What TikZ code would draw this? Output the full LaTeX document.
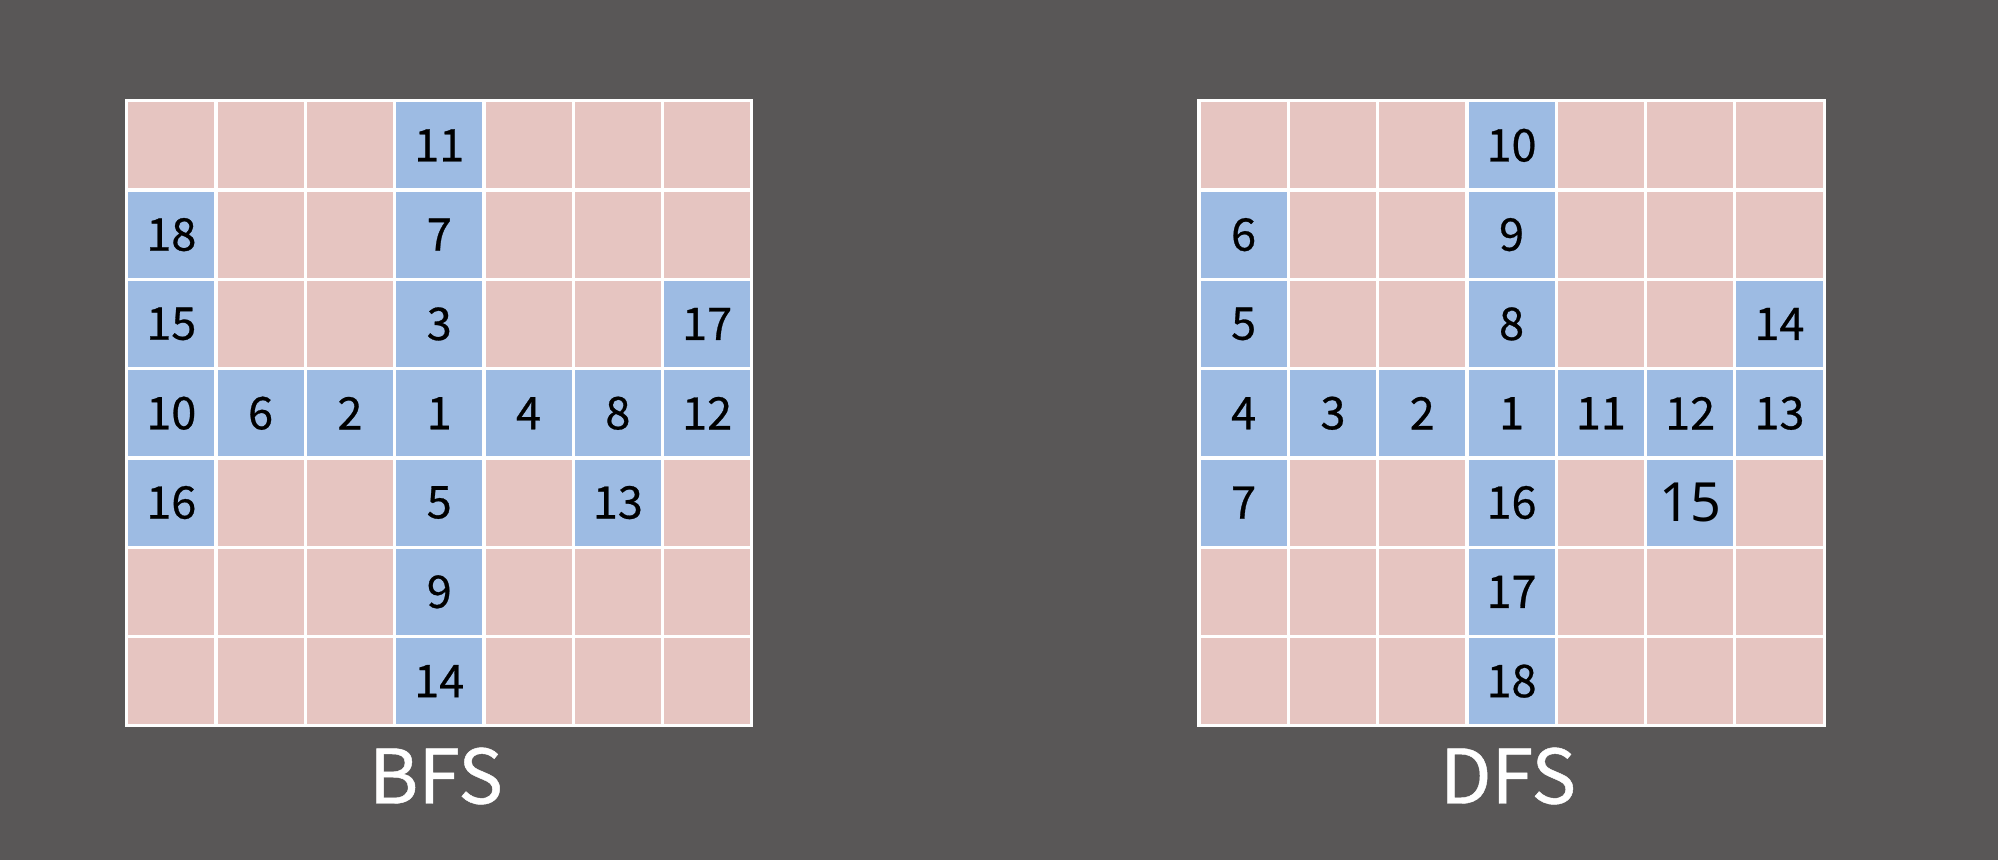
\documentclass[tikz,border=0pt]{standalone}
\usepackage{fontspec}
\setmainfont{Noto Sans CJK SC}[FakeBold=0.6]
\newfontfamily\altfont{Noto Sans}
\definecolor{bgc}{HTML}{595757}
\definecolor{pinkc}{HTML}{E6C5C1}
\definecolor{bluec}{HTML}{9DBBE3}
\tikzset{
  cellbox/.style={draw=white, line width=3.2pt, minimum size=89.3pt, inner sep=0pt, outer sep=0pt, fill=pinkc, font=\fontsize{45}{45}\selectfont},
  visited/.style={cellbox, fill=bluec},
  caption/.style={text=white, font=\fontsize{75}{75}\selectfont, inner sep=0pt}
}
\begin{document}
\begin{tikzpicture}[x=1pt,y=-1pt]
\fill[bgc] (0,0) rectangle (1998,860);
\useasboundingbox (0,0) rectangle (1998,860);
% BFS grid
\foreach \r in {0,...,6}{
  \foreach \c in {0,...,6}{
    \node[cellbox] (b\r\c) at ({126.7+44.65+89.3*\c},{100.7+44.65+89.3*\r}) {};
  }
}
\foreach \r/\c/\t in {0/3/11,1/0/18,1/3/7,2/0/15,2/3/3,2/6/17,3/0/10,3/1/6,3/2/2,3/3/1,3/4/4,3/5/8,3/6/12,4/0/16,4/3/5,4/5/13,5/3/9,6/3/14}{
  \node[visited] (bv\r\c) at ({126.7+44.65+89.3*\c},{100.7+44.65+89.3*\r}) {\t};
}
% DFS grid
\foreach \r in {0,...,6}{
  \foreach \c in {0,...,6}{
    \node[cellbox] (d\r\c) at ({1199+44.65+89.3*\c},{100.7+44.65+89.3*\r}) {};
  }
}
\foreach \r/\c/\t in {0/3/10,1/0/6,1/3/9,2/0/5,2/3/8,2/6/14,3/0/4,3/1/3,3/2/2,3/3/1,3/4/11,3/5/12,3/6/13,4/0/7,4/3/16,5/3/17,6/3/18}{
  \node[visited] (dv\r\c) at ({1199+44.65+89.3*\c},{100.7+44.65+89.3*\r}) {\t};
}
\node[visited, font=\altfont\fontsize{54}{54}\selectfont] (dv45) at ({1199+44.65+89.3*5},{100.7+44.65+89.3*4}) {15};
% captions
\node[caption] (bfs) at (436,776) {BFS};
\node[caption] (dfs) at (1508,776) {DFS};
\end{tikzpicture}
\end{document}
